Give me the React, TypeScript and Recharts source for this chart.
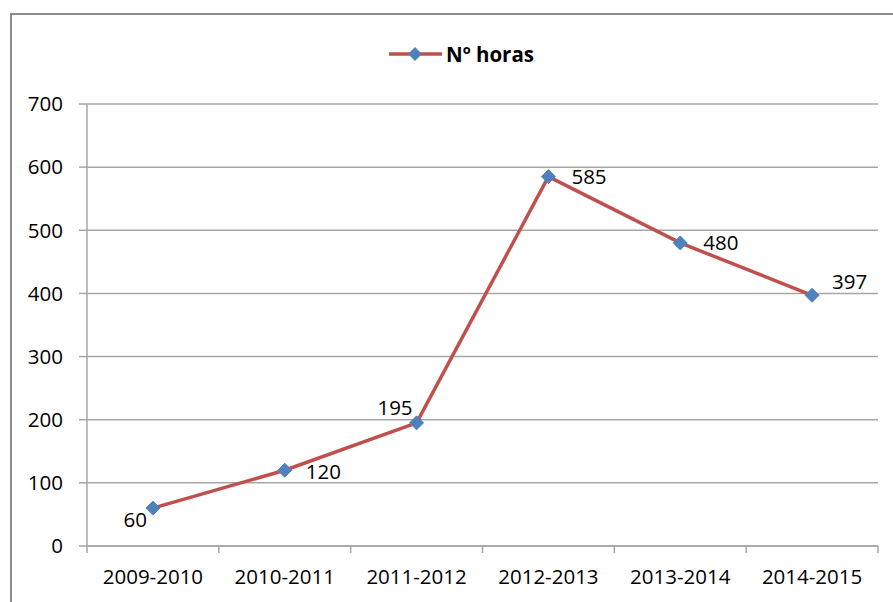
import React from "react";
import { LineChart, Line, XAxis, YAxis, CartesianGrid, Legend } from "recharts";

const categories = ["2009-2010", "2010-2011", "2011-2012", "2012-2013", "2013-2014", "2014-2015"];
const horas = [60, 120, 195, 585, 480, 397];
const yTicks = [0, 100, 200, 300, 400, 500, 600, 700];
const seriesName = "Nº horas";

const data = categories.map((c, i) => ({ name: c, horas: horas[i] }));

// label placement style (anchor + offset relative to each point)
const labelStyle = [
  { anchor: "end", dx: -6, dy: 19 },
  { anchor: "start", dx: 21, dy: 9 },
  { anchor: "end", dx: -4, dy: -8 },
  { anchor: "start", dx: 23, dy: 7 },
  { anchor: "start", dx: 23, dy: 7 },
  { anchor: "start", dx: 20, dy: -6 },
];

const W = 893;
const H = 602;
const M = { top: 104, right: 15, bottom: 0, left: 27 };
const Y_AXIS_W = 60;
const X_AXIS_H = 56;
const PLOT_W = W - M.left - Y_AXIS_W - M.right;
const BAND = PLOT_W / categories.length;
const FONT = "'Open Sans', sans-serif";
const GRID = "#a6a6a6";
const LINE = "#C0504D";
const MARK = "#4F81BD";

const Diamond = (props: any) => {
  const { cx, cy } = props;
  if (cx == null || cy == null) return null;
  const r = 7;
  return (
    <polygon
      points={`${cx},${cy - r} ${cx + r},${cy} ${cx},${cy + r} ${cx - r},${cy}`}
      fill={MARK}
      stroke={MARK}
      strokeWidth={1}
    />
  );
};

const XTick = (props: any) => {
  const { x, y, payload, index } = props;
  const half = BAND / 2;
  return (
    <g>
      <line x1={x - half} x2={x - half} y1={y} y2={y + 7} stroke={GRID} strokeWidth={1.5} />
      {index === categories.length - 1 && (
        <line x1={x + half} x2={x + half} y1={y} y2={y + 7} stroke={GRID} strokeWidth={1.5} />
      )}
      <text x={x} y={y + 38} textAnchor="middle" fontFamily={FONT} fontSize={20.5} fill="#000">
        {payload.value}
      </text>
    </g>
  );
};

const renderLabel = (props: any) => {
  const { x, y, value, index } = props;
  const s = labelStyle[index];
  return (
    <text
      x={x + s.dx}
      y={y + s.dy}
      textAnchor={s.anchor}
      fontFamily={FONT}
      fontSize={20.5}
      fill="#000"
    >
      {value}
    </text>
  );
};

const LegendContent = () => (
  <div style={{ display: "flex", alignItems: "center", fontFamily: FONT }}>
    <svg width={56} height={20}>
      <line x1={1} x2={54} y1={10} y2={10} stroke={LINE} strokeWidth={3.5} />
      <polygon points="27,3 34,10 27,17 20,10" fill={MARK} />
    </svg>
    <span style={{ fontWeight: "bold", fontSize: 20.5, color: "#000", marginLeft: 2 }}>{seriesName}</span>
  </div>
);

export default function App() {
  return (
    <div style={{ position: "absolute", left: 0, top: 0, width: W, height: H, overflow: "hidden", background: "#fff" }}>
      <div
        style={{
          position: "absolute",
          left: 10,
          top: 13,
          width: W - 10,
          height: H - 13,
          boxSizing: "border-box",
          borderLeft: "2px solid #8c8c8c",
          borderTop: "2px solid #8c8c8c",
        }}
      />
      <div style={{ position: "absolute", left: 0, top: 0 }}>
        <LineChart width={W} height={H} data={data} margin={M}>
          <CartesianGrid vertical={false} stroke={GRID} strokeWidth={1.5} />
          <XAxis
            dataKey="name"
            height={X_AXIS_H}
            padding={{ left: BAND / 2, right: BAND / 2 }}
            tick={<XTick />}
            tickLine={false}
            tickSize={0}
            tickMargin={0}
            axisLine={{ stroke: GRID, strokeWidth: 1.5 }}
            interval={0}
          />
          <YAxis
            width={Y_AXIS_W}
            domain={[0, 700]}
            ticks={yTicks}
            interval={0}
            tickSize={8}
            tickMargin={16}
            tickLine={{ stroke: GRID, strokeWidth: 1.5 }}
            axisLine={{ stroke: GRID, strokeWidth: 1.5 }}
            tick={{ fontFamily: FONT, fontSize: 20.5, fill: "#000" }}
          />
          <Legend
            layout="horizontal"
            verticalAlign="middle"
            align="center"
            content={<LegendContent />}
            wrapperStyle={{ position: "absolute", left: 388, top: 40, width: "auto" }}
          />
          <Line
            type="linear"
            dataKey="horas"
            name={seriesName}
            stroke={LINE}
            strokeWidth={3.5}
            dot={<Diamond />}
            activeDot={false}
            label={renderLabel}
            isAnimationActive={false}
          />
        </LineChart>
      </div>
    </div>
  );
}
